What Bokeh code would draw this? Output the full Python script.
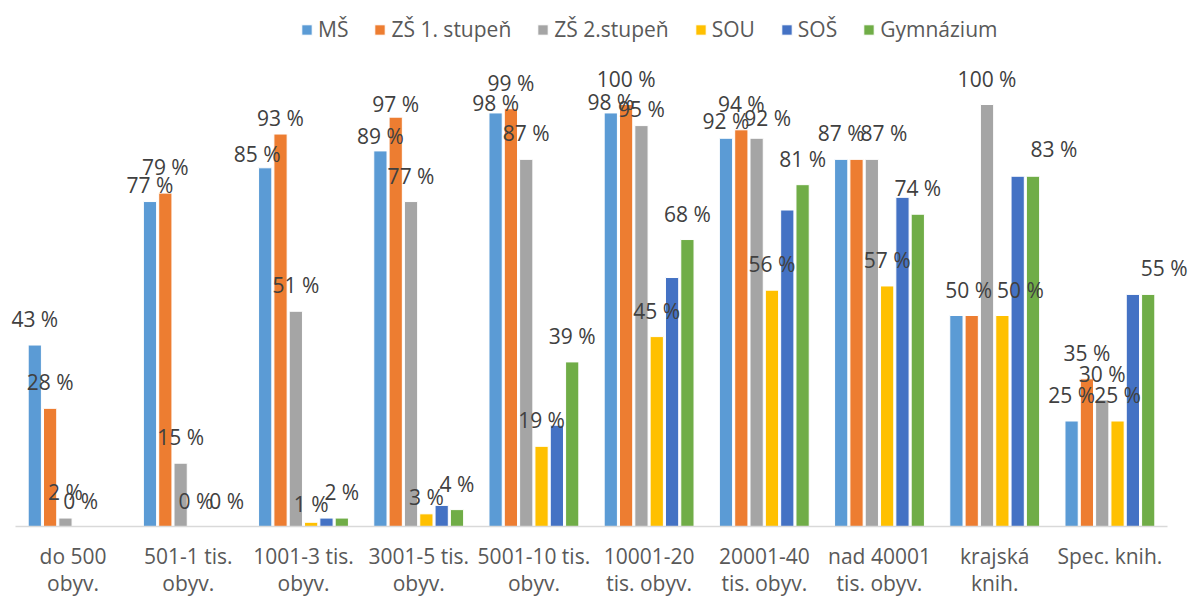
from bokeh.plotting import figure
from bokeh.models import ColumnDataSource, Range1d, Legend, LegendItem
from bokeh.core.properties import value
from bokeh.embed import file_html
from bokeh.resources import INLINE

# ---------------- data ----------------
categories = ["do 500\nobyv.", "501-1 tis.\nobyv.", "1001-3 tis.\nobyv.",
              "3001-5 tis.\nobyv.", "5001-10 tis.\nobyv.", "10001-20\ntis. obyv.",
              "20001-40\ntis. obyv.", "nad 40001\ntis. obyv.", "krajská\nknih.",
              "Spec. knih."]
series_names = ["MŠ", "ZŠ 1. stupeň", "ZŠ 2.stupeň", "SOU", "SOŠ", "Gymnázium"]
series_colors = ["#5B9BD5", "#ED7D31", "#A5A5A5", "#FFC000", "#4472C4", "#70AD47"]

ms  = [43, 77, 85, 89, 98, 98, 92, 87, 50, 25]
zs1 = [28, 79, 93, 97, 99, 100, 94, 87, 50, 35]
zs2 = [2, 15, 51, 77, 87, 95, 92, 87, 100, 30]
sou = [0, 0, 1, 3, 19, 45, 56, 57, 50, 25]
sos = [0, 0, 2, 5, 24, 59, 75, 78, 83, 55]
gym = [0, 0, 2, 4, 39, 68, 81, 74, 83, 55]

# which data labels are visible in the original (1 = shown)
ms_lbl  = [1, 1, 1, 1, 1, 1, 1, 1, 0, 1]
zs1_lbl = [1, 1, 1, 1, 1, 1, 1, 0, 1, 1]
zs2_lbl = [1, 1, 1, 1, 1, 1, 1, 1, 1, 1]
sou_lbl = [1, 1, 1, 1, 1, 1, 1, 1, 1, 1]
sos_lbl = [0, 0, 0, 0, 0, 0, 0, 0, 0, 0]
gym_lbl = [0, 1, 1, 1, 1, 1, 1, 1, 1, 1]

series_values = [ms, zs1, zs2, sou, sos, gym]
series_labels = [ms_lbl, zs1_lbl, zs2_lbl, sou_lbl, sos_lbl, gym_lbl]

# ---------------- style / layout ----------------
FONT = "Open Sans"
W, H = 1189, 597
GROUP_PX = 115.2
PX_PER_PCT = 4.22
BASE_Y = 526          # canvas y of the baseline
LEFT = 15             # canvas x of first group start
STEP = 0.133          # bar step inside a group (group = 1 unit)
LABEL_GAP = 26        # default px between bar top and label centre

# label placement tweaks (series index, category index) -> (dx px, gap px),
# mimicking the overlap avoidance of the original data labels
label_nudge = {
    (0, 1): (0, 17), (0, 2): (-8, 14), (1, 2): (0, 16), (3, 2): (0, 18),
    (0, 3): (0, 15), (1, 3): (0, 13), (3, 3): (0, 17),
    (0, 4): (0, 10), (0, 5): (0, 11), (2, 5): (0, 17),
    (0, 6): (0, 17), (2, 6): (11, 20),
    (2, 7): (12, 26),
    (1, 8): (-3, 26), (3, 8): (18, 26), (5, 8): (21, 27),
    (5, 9): (16, 26),
}

p = figure(width=W, height=H,
           x_range=Range1d(-LEFT / GROUP_PX, (W - LEFT) / GROUP_PX),
           y_range=Range1d(-(H - BASE_Y) / PX_PER_PCT, BASE_Y / PX_PER_PCT),
           output_backend="svg", toolbar_location=None, min_border=0)
p.axis.visible = False
p.grid.visible = False
p.outline_line_color = None
p.background_fill_color = "white"
p.border_fill_color = "white"

n = len(categories)
renderers = []
lx, ly, lt = [], [], []
for j, (vals, lbls, color) in enumerate(zip(series_values, series_labels, series_colors)):
    xs = [i + 0.5 + (j - 2.5) * STEP for i in range(n)]
    src = ColumnDataSource(dict(x=xs, top=vals))
    r = p.vbar(x="x", top="top", width=0.115, bottom=0, source=src,
               fill_color=color, line_color="white", line_width=1)
    renderers.append(r)
    for i, (x, v, s) in enumerate(zip(xs, vals, lbls)):
        if not s:
            continue
        dx, gap = label_nudge.get((j, i), (0, LABEL_GAP))
        lx.append(x + dx / GROUP_PX)
        ly.append(v + gap / PX_PER_PCT)
        lt.append(f"{round(v)} %")

# data labels drawn above all bars
p.text(x=lx, y=ly, text=lt, text_align="center", text_baseline="middle",
       text_font=value(FONT), text_font_size="21px", text_color="#404040")

# baseline (category axis line)
p.segment(x0=[0], y0=[0], x1=[n], y1=[0], line_color="#D9D9D9", line_width=1.5)

# category labels (two lines)
line1 = [c.split("\n")[0] for c in categories]
line2 = [c.split("\n")[1] if "\n" in c else "" for c in categories]
cx = [i + 0.5 for i in range(n)]
p.text(x=cx, y=[-29 / PX_PER_PCT] * n, text=line1, text_align="center",
       text_baseline="middle", text_font=value(FONT), text_font_size="21px",
       text_color="#595959")
p.text(x=cx, y=[-56 / PX_PER_PCT] * n, text=line2, text_align="center",
       text_baseline="middle", text_font=value(FONT), text_font_size="21px",
       text_color="#595959")

legend = Legend(items=[LegendItem(label=nm, renderers=[r]) for nm, r in zip(series_names, renderers)],
                orientation="horizontal", location=(300, 554),
                glyph_width=13, glyph_height=13, label_standoff=5, spacing=25,
                padding=0, margin=0, border_line_color=None,
                background_fill_alpha=0,
                label_text_font=FONT, label_text_font_size="21px",
                label_text_color="#595959")
p.add_layout(legend)

open("out.html", "w").write(file_html(p, INLINE))
